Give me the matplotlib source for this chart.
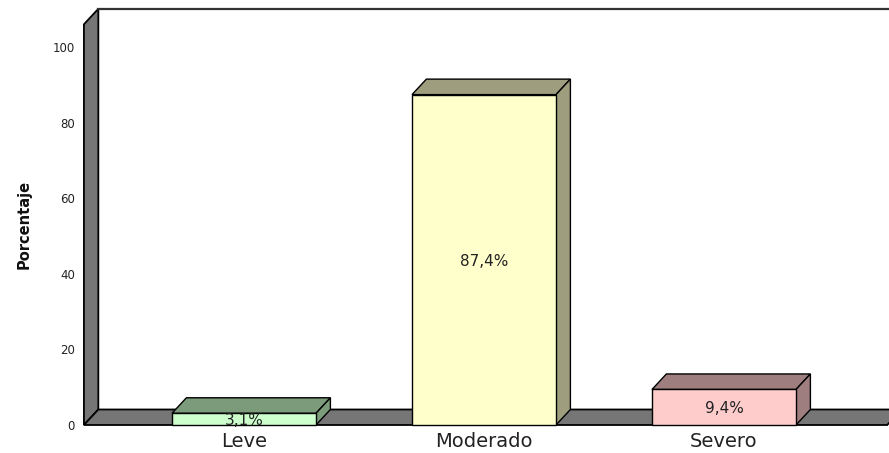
import matplotlib.pyplot as plt
from matplotlib.patches import Polygon

# -----------------------------
# Data
# -----------------------------
categories = ["Leve", "Moderado", "Severo"]
percentages = [3.1, 87.4, 9.4]
labels = ["3,1%", "87,4%", "9,4%"]
front_colors = ["#ccffcc", "#ffffcc", "#ffcccc"]
shade_colors = ["#7b9b7b", "#9e9d7e", "#9e7e7e"]
y_ticks = [0, 20, 40, 60, 80, 100]

# -----------------------------
# 3D look settings
# -----------------------------
bar_width = 0.6
dx = 0.06      # depth offset in category units
dy = 4.1       # depth offset in percent units
wall_x = -0.667
wall_top = 106
floor_end = 2.68
wall_color = "#767676"

plt.rcParams["font.family"] = ["DejaVu Sans"]

fig = plt.figure(figsize=(8.89, 4.53), dpi=100)
ax = fig.add_axes([0, 0, 1, 1])
ax.set_xlim(-1.0167, 2.6875)
ax.set_ylim(-7.41, 112.43)
ax.axis("off")

# left wall
ax.add_patch(Polygon([(wall_x, 0), (wall_x, wall_top), (wall_x + dx, wall_top + dy),
                      (wall_x + dx, dy)], closed=True, facecolor=wall_color,
                     edgecolor="black", linewidth=1.3, zorder=1))
# back wall top edge
ax.plot([wall_x + dx, 2.7], [wall_top + dy, wall_top + dy], color="#333333",
        linewidth=1.6, zorder=1)
# floor
ax.add_patch(Polygon([(wall_x, 0), (floor_end, 0), (floor_end + dx, dy),
                      (wall_x + dx, dy)], closed=True, facecolor=wall_color,
                     edgecolor="black", linewidth=1.3, zorder=2))

# bars
for i, (val, lab) in enumerate(zip(percentages, labels)):
    x0 = i - bar_width / 2
    x1 = i + bar_width / 2
    front = Polygon([(x0, 0), (x1, 0), (x1, val), (x0, val)], closed=True,
                    facecolor=front_colors[i], edgecolor="black", linewidth=1, zorder=4)
    top = Polygon([(x0, val), (x1, val), (x1 + dx, val + dy), (x0 + dx, val + dy)],
                  closed=True, facecolor=shade_colors[i], edgecolor="black",
                  linewidth=1, zorder=3)
    side = Polygon([(x1, 0), (x1, val), (x1 + dx, val + dy), (x1 + dx, dy)],
                   closed=True, facecolor=shade_colors[i], edgecolor="black",
                   linewidth=1, zorder=3)
    ax.add_patch(top)
    ax.add_patch(side)
    ax.add_patch(front)
    ax.text(i, val / 2, lab, ha="center", va="center_baseline", fontsize=11,
            color="#222222", zorder=5)
    ax.text(i, -5.9, categories[i], ha="center", va="baseline", fontsize=14,
            color="#222222")

# y tick labels
for t in y_ticks:
    ax.text(wall_x - 0.037, t, str(t), ha="right", va="center_baseline",
            fontsize=8.5, color="#222222")

ax.text(-0.915, wall_top / 2, "Porcentaje", rotation=90, ha="center", va="center",
        fontsize=10.5, fontweight="bold", color="#111111")

plt.savefig("out.png", dpi=100)
plt.close()
